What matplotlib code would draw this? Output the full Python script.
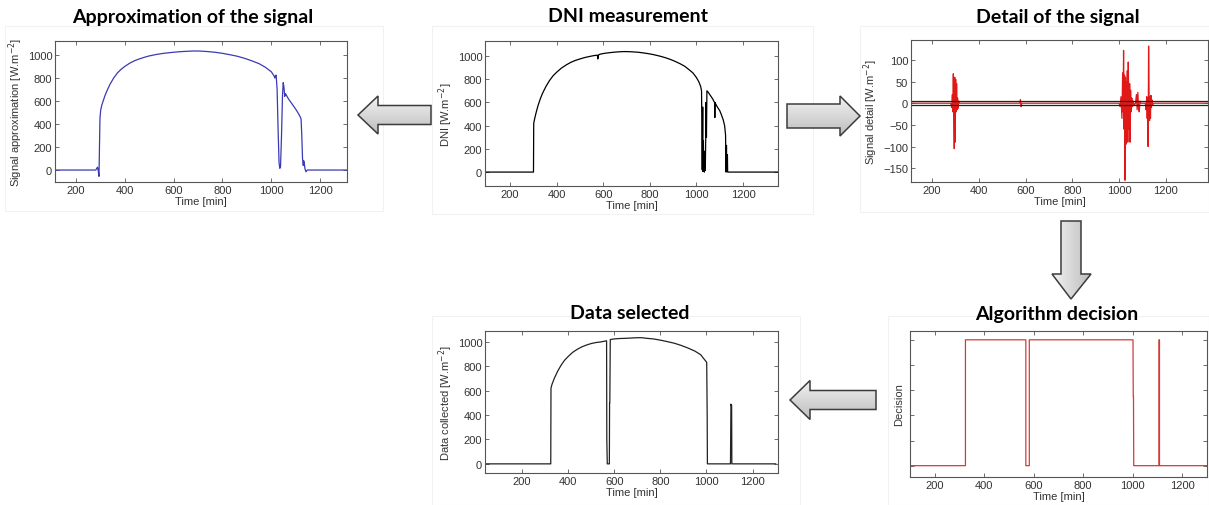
import matplotlib
matplotlib.use('Agg')
import matplotlib.pyplot as plt
import numpy as np
from matplotlib.patches import Polygon, Rectangle

W, H = 1209, 506

# DNI measurement [min, W/m2]
dni_t = [93, 301, 302, 306, 312, 320, 330, 340, 355, 370, 385, 400, 420, 440, 460, 480, 500, 520, 540, 560,
         575, 577, 579, 581, 590, 610, 630, 650, 670, 690, 710, 730, 750, 770, 790, 810, 830, 850, 870, 890,
         910, 930, 950, 970, 985, 1000, 1010, 1018, 1022, 1025, 1027, 1028, 1030, 1031, 1033, 1034, 1036, 1038,
         1040, 1041, 1043, 1045, 1050, 1060, 1070, 1075, 1078, 1079, 1080, 1082, 1090, 1100, 1108, 1115, 1121,
         1125, 1127, 1129, 1130, 1133, 1134, 1350]
dni_v = [0, 0, 420, 460, 510, 570, 630, 680, 740, 790, 830, 860, 895, 922, 945, 962, 975, 987, 996, 1004,
         1008, 975, 1000, 1012, 1018, 1025, 1030, 1034, 1037, 1039, 1038, 1036, 1033, 1028, 1022, 1015, 1006, 996, 984, 970,
         953, 934, 912, 880, 855, 815, 780, 740, 700, 20, 560, 5, 270, 10, 180, 0, 60, 15,
         300, 600, 300, 700, 690, 660, 630, 610, 600, 470, 600, 590, 560, 530, 490, 450, 400,
         320, 0, 230, 5, 150, 0, 0]

# wavelet approximation
approx_t = [115, 282, 286, 289, 292, 295, 297, 299, 302, 306, 312, 320, 330, 340, 355, 370, 385, 400, 420, 440,
            460, 480, 500, 530, 560, 590, 620, 650, 680, 700, 720, 740, 770, 800, 830, 860, 890, 920, 950, 975,
            1000, 1008, 1012, 1015, 1017, 1020, 1024, 1028, 1032, 1035, 1038, 1042, 1046, 1049, 1052, 1055, 1058, 1062,
            1070, 1080, 1090, 1100, 1110, 1118, 1122, 1125, 1128, 1131, 1133, 1135, 1138, 1142, 1147, 1310]
approx_v = [0, 0, 15, 25, -5, -55, 200, 450, 520, 560, 600, 650, 700, 745, 800, 843, 875, 900, 928, 950,
            966, 980, 992, 1005, 1015, 1022, 1028, 1032, 1035, 1035, 1033, 1030, 1024, 1015, 1003, 990, 972, 950, 925, 895,
            855, 830, 815, 800, 820, 825, 700, 350, 60, 15, 30, 300, 650, 760, 720, 640, 665, 650,
            620, 590, 560, 530, 495, 465, 445, 300, 100, 40, 80, 60, 10, -15, 0, 0]

# wavelet detail
detail_t = [110, 280, 284, 287, 289, 291, 293, 295, 297, 299, 301, 303, 305, 307, 309, 311, 314, 318,
            575, 578, 581, 584,
            1000, 1004, 1008, 1012, 1015, 1017, 1019, 1021, 1023, 1025, 1027, 1029, 1031, 1033, 1035, 1037, 1039, 1041,
            1043, 1045, 1047, 1049, 1051, 1054, 1057, 1060, 1065, 1070, 1074, 1077, 1080, 1083, 1086, 1089, 1093,
            1112, 1115, 1118, 1120, 1122, 1124, 1126, 1128, 1130, 1132, 1134, 1136, 1138, 1140, 1143, 1147, 1152, 1380]
detail_v = [0, 0, -10, 20, -20, 68, -30, -105, 60, -90, 55, -20, 45, -15, 12, -12, 5, 0,
            0, 8, -8, 0,
            0, -8, 15, -35, 70, -20, 122, -60, 65, -178, 60, -95, 50, -20, 75, -90, 95, 20,
            -60, 45, -90, 30, -20, 12, -8, 5, -5, 0, 20, -15, 25, -10, -20, 5, 0,
            0, -15, 15, -35, 12, -100, 132, 20, -40, 15, -35, 18, -10, 8, -4, 0, 0, 0]
threshold = 4

# data kept by the algorithm
sel_t = [40, 325, 326, 330, 340, 355, 370, 385, 400, 420, 440, 460, 480, 500, 520, 540, 555, 567, 568, 570,
         579, 580, 581, 583, 600, 620, 650, 680, 700, 720, 740, 770, 800, 830, 860, 890, 920, 950, 975, 1000,
         1001, 1003, 1004, 1104, 1105, 1106, 1107, 1109, 1110, 1300]
sel_v = [0, 0, 620, 650, 700, 760, 810, 850, 880, 915, 940, 960, 975, 987, 995, 1000, 1005, 1010, 200, 0,
         0, 500, 500, 1020, 1025, 1028, 1030, 1033, 1035, 1035, 1030, 1025, 1015, 1003, 990, 972, 950, 925, 895, 835,
         830, 410, 0, 0, 250, 490, 480, 480, 0, 0]

# decision (0 = rejected, 1 = kept)
dec_t = [100, 324, 324, 568, 568, 582, 582, 1001, 1002, 1003, 1004, 1106, 1106, 1108, 1108, 1300]
dec_v = [0, 0, 1, 1, 0, 0, 1, 1, 0.55, 0.55, 0, 0, 1, 1, 0, 0]

plt.rcParams['font.family'] = ['Liberation Sans', 'DejaVu Sans']
fig = plt.figure(figsize=(W / 100, H / 100), dpi=100)
fig.patch.set_facecolor('white')

# overlay in pixel coords for frames and arrows
bg = fig.add_axes([0, 0, 1, 1])
bg.set_xlim(0, W)
bg.set_ylim(H, 0)
bg.axis('off')

frames = [(5, 27, 378, 185), (432, 27, 381, 188), (860, 27, 349, 186), (432, 317, 368, 189), (888, 317, 321, 189)]
for x, y, w, h in frames:
    bg.add_patch(Rectangle((x, y), w, h, fill=False, ec='#f2f2f2', lw=0.8))


def block_arrow(pts, horizontal=True):
    pts = np.array(pts, dtype=float)
    poly = Polygon(pts, closed=True, fc='none', ec='#3c3c3c', lw=1.1, zorder=3)
    bg.add_patch(poly)
    x0, x1 = pts[:, 0].min(), pts[:, 0].max()
    y0, y1 = pts[:, 1].min(), pts[:, 1].max()
    g = np.linspace(0.95, 0.74, 64)
    grad = g[:, None] if horizontal else g[None, :]
    im = bg.imshow(grad, cmap='gray', vmin=0, vmax=1, extent=(x0, x1, y1, y0), origin='upper',
                   aspect='auto', zorder=2)
    im.set_clip_path(poly)


def left_arrow(tip_x, tip_y, head_x, head_h, shaft_h, end_x):
    return [(tip_x, tip_y), (head_x, tip_y - head_h / 2), (head_x, tip_y - shaft_h / 2), (end_x, tip_y - shaft_h / 2),
            (end_x, tip_y + shaft_h / 2), (head_x, tip_y + shaft_h / 2), (head_x, tip_y + head_h / 2)]


block_arrow(left_arrow(358, 116, 378, 38, 19, 431))
block_arrow([(-x, y) for x, y in left_arrow(-860, 117, -840, 40, 24, -787)])
block_arrow(left_arrow(790, 401, 810, 39, 19, 876))
block_arrow([(1061, 222), (1081, 222), (1081, 275), (1091, 275), (1071, 300), (1052, 275), (1061, 275)],
            horizontal=False)
bg.set_xlim(0, W)
bg.set_ylim(H, 0)


def panel(box, t, v, color, xlim, ylim, yticks, ylabel, title, title_xy, show_ylab=True):
    l, r, top, bot = box
    ax = fig.add_axes([l / W, 1 - bot / H, (r - l) / W, (bot - top) / H])
    ax.plot(t, v, color=color, lw=0.9)
    ax.set_xlim(*xlim)
    ax.set_ylim(*ylim)
    ax.set_xticks([200, 400, 600, 800, 1000, 1200])
    ax.set_yticks(yticks)
    if not show_ylab:
        ax.set_yticklabels([])
    ax.tick_params(direction='in', length=3, width=0.6, top=True, right=True, labelsize=8,
                   colors='#555555', labelcolor='#333333', pad=2)
    for s in ax.spines.values():
        s.set_color('#555555')
        s.set_linewidth(0.8)
    ax.set_xlabel('Time [min]', fontsize=8, color='#333333', labelpad=1)
    ax.set_ylabel(ylabel, fontsize=8, color='#333333', labelpad=2)
    fig.text(title_xy[0] / W, 1 - title_xy[1] / H, title, ha='center', va='center', fontsize=14,
             fontweight='bold', family=['Lato', 'DejaVu Sans'], color='black')
    return ax


wm = r'[W.m$^{-2}$]'
panel((55, 347, 42, 183), approx_t, approx_v, '#3a3ab5', (115, 1310), (-104, 1122),
      [0, 200, 400, 600, 800, 1000], 'Signal approximation ' + wm, 'Approximation of the signal', (193, 17))
panel((485, 778, 42, 187), dni_t, dni_v, 'black', (93, 1350), (-120, 1130),
      [0, 200, 400, 600, 800, 1000], 'DNI ' + wm, 'DNI measurement', (628, 17))
ax3 = panel((911, 1208, 41, 183), detail_t, detail_v, '#e01818', (110, 1380), (-182, 146),
            [-150, -100, -50, 0, 50, 100], 'Signal detail ' + wm, 'Detail of the signal', (1058, 17))
ax3.axhline(threshold, color='#222222', lw=0.9)
ax3.axhline(-threshold, color='#222222', lw=0.9)
panel((485, 778, 332, 474), sel_t, sel_v, '#222222', (40, 1310), (-75, 1090),
      [0, 200, 400, 600, 800, 1000], 'Data collected ' + wm, 'Data selected', (630, 314))
panel((910, 1207, 332, 478), dec_t, dec_v, '#d03c3c', (100, 1300), (-0.09, 1.07),
      [0, 0.2, 0.4, 0.6, 0.8, 1.0], 'Decision', 'Algorithm decision', (1057, 315), show_ylab=False)

fig.savefig('out.png', dpi=100, facecolor='white')
